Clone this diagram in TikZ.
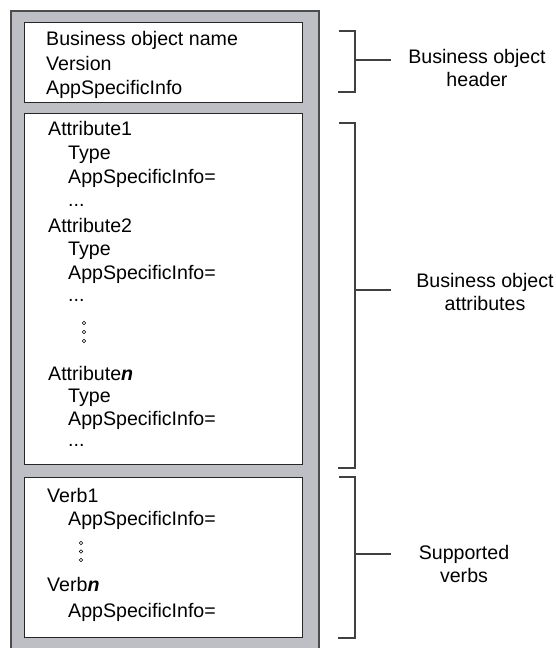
\documentclass[tikz,border=0pt]{standalone}
\usepackage{fontspec}
\setmainfont{Liberation Sans}
\definecolor{panelgray}{RGB}{190,191,196}
\begin{document}
\begin{tikzpicture}[x=1pt,y=-1pt,
    txt/.style={anchor=base west,inner sep=0pt,font=\fontsize{19.6}{23}\selectfont},
    lbl/.style={align=center,inner sep=0pt,font=\fontsize{19.6}{23}\selectfont},
    part/.style={draw=black!85,line width=1.2pt,fill=white,anchor=north west,minimum width=278pt,inner sep=0pt},
    brk/.style={draw=black!75,line width=1.3pt},
    ring/.style={circle,draw,line width=0.6pt,inner sep=0pt,minimum size=3.6pt}]
    \useasboundingbox (0,0) rectangle (555,648);
    \draw[fill=panelgray,draw=black!70,line width=1.4pt] (11,11) rectangle (319,652);
    \node[part,minimum height=80pt] (head) at (24,22) {};
    \node[part,minimum height=351pt] (attrs) at (24,113) {};
    \node[part,minimum height=160pt] (verbs) at (24,477) {};
    \node[txt] (boname) at (46,45) {Business object name};
    \node[txt] (version) at (46,70) {Version};
    \node[txt] (hdinfo) at (46,94) {AppSpecificInfo};
    \foreach \i/\yy/\dy/\ttl in {1/135/24/Attribute1, 2/232/23.5/Attribute2, n/380/22.5/{Attribute\textbf{\textit{n}}}} {
        \node[txt] (attr\i) at (48,\yy) {\ttl};
        \node[txt] (type\i) at (68,\yy+\dy) {Type};
        \node[txt] (info\i) at (68,\yy+2*\dy) {AppSpecificInfo=};
        \node[txt] (more\i) at (68,\yy+3*\dy-1) {...};
    }
    \foreach \k/\yy in {1/323,2/332,3/341} \node[ring] (adot\k) at (84,\yy) {};
    \node[txt] (verb1) at (47,502) {Verb1};
    \node[txt] (vinfo1) at (68,525) {AppSpecificInfo=};
    \foreach \k/\yy in {1/543,2/551.5,3/560} \node[ring] (vdot\k) at (81,\yy) {};
    \node[txt] (verbn) at (47,591) {Verb\textbf{\textit{n}}};
    \node[txt] (vinfon) at (68,617) {AppSpecificInfo=};
    \foreach \nm/\top/\bot/\mid in {hd/31/92/60, at/123/468/290, vb/477/638/554} {
        \coordinate (\nm-top) at (339,\top);
        \coordinate (\nm-bot) at (338,\bot);
        \coordinate (\nm-mid) at (355,\mid);
        \coordinate (\nm-end) at (391,\mid);
        \draw[brk] (\nm-top) -| (\nm-mid) |- (\nm-bot);
        \draw[brk] (\nm-mid) -- (\nm-end);
    }
    \node[lbl] (hdlabel) at (477,68) {Business object\\header};
    \node[lbl] (atlabel) at (485,292) {Business object\\attributes};
    \node[lbl] (vblabel) at (464,564) {Supported\\verbs};
\end{tikzpicture}
\end{document}
